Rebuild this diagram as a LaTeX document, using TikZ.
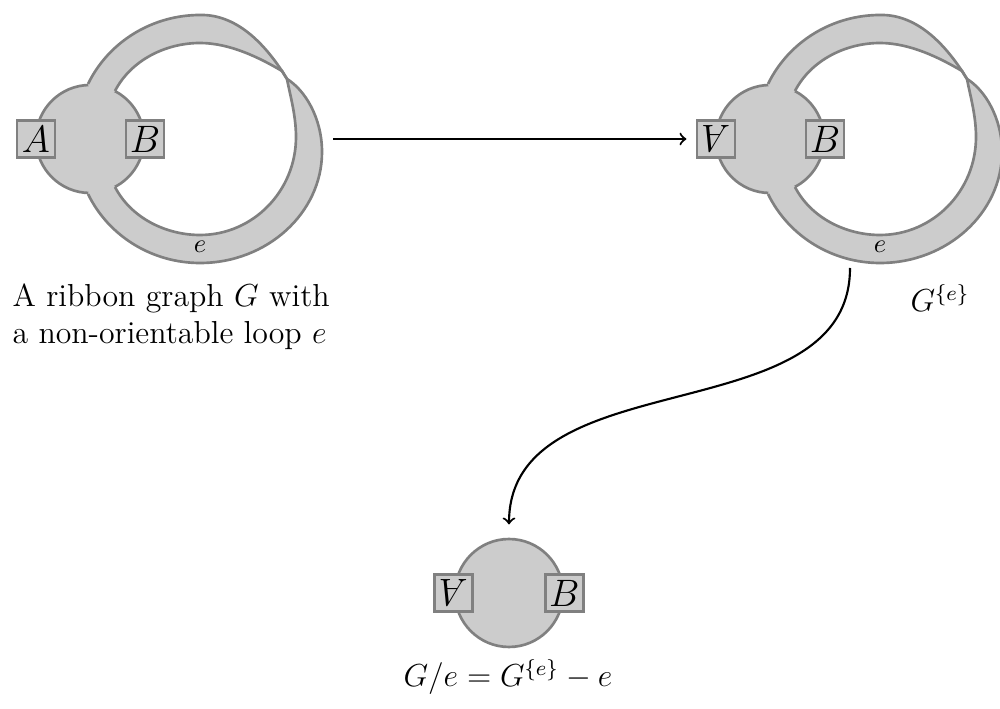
\documentclass[tikz,border=0pt]{standalone}

\tikzset{
  disc/.style={draw=gray, fill=gray!40, line width=1pt},
  ribbon/.style={fill=gray!40},
  ribbonedge/.style={draw=gray, line width=1pt},
  markbox/.style={draw=gray, fill=gray!40, line width=1pt, inner sep=0pt,
    minimum width=14.3pt, minimum height=14pt, font=\Large},
  caption/.style={inner sep=0pt, font=\large}
}

% half-twisted loop on a vertex centred at (90,139)
\newcommand*{\OuterTop}{(88,84) .. controls (109,41) and (153,15) .. (200,15)
    .. controls (240,14) and (268,50) .. (282,71)}
\newcommand*{\InnerTop}{(115,91) .. controls (131,60) and (166,43) .. (200,43)
    .. controls (230,43) and (260,58) .. (282,71)}
\newcommand*{\TwistedLoop}{%
  \fill[ribbon] \OuterTop -- (287,79)
    .. controls (290,95) and (296,115) .. (296,137)
    .. controls (296,191) and (253,235) .. (200,235)
    .. controls (166,235) and (131,218) .. (115,187)
    -- (95,160) -- (88,194)
    .. controls (109,237) and (153,263) .. (200,263)
    .. controls (267,263) and (322,213) .. (322,152)
    .. controls (322,118) and (305,90) .. (287,79) -- (282,71)
    .. controls (260,58) and (230,43) .. (200,43)
    .. controls (166,43) and (131,60) .. (115,91)
    -- (95,115) -- cycle;
  \draw[ribbonedge] \OuterTop -- (287,79)
    .. controls (290,95) and (296,115) .. (296,137)
    .. controls (296,191) and (253,235) .. (200,235)
    .. controls (166,235) and (131,218) .. (115,187);
  \draw[ribbonedge] \InnerTop -- (287,79)
    .. controls (305,90) and (322,118) .. (322,152)
    .. controls (322,213) and (267,263) .. (200,263)
    .. controls (153,263) and (109,237) .. (88,194);
}

\newcommand*{\FlipA}{\rotatebox{180}{$A$}}

\begin{document}
\begin{tikzpicture}[x=0.377pt, y=-0.377pt]
  \useasboundingbox (0,0) rectangle (1000,709);

  % G
  \draw[disc] (90,139) circle (54);
  \TwistedLoop
  \node at (200,247) {$e$};
  \node[markbox] (gA) at (36,139) {$A$};
  \node[markbox] (gB) at (145,139) {$B$};
  \coordinate (gright) at (333,139);
  \node[caption, anchor=west, align=left] (capG) at (12,317)
    {A ribbon graph $G$ with\\a non-orientable loop $e$};

  % partial Petrial
  \begin{scope}[shift={(680,0)}]
    \draw[disc] (90,139) circle (54);
    \TwistedLoop
    \node at (200,247) {$e$};
    \node[markbox] (pA) at (36,139) {\FlipA};
    \node[markbox] (pB) at (145,139) {$B$};
    \coordinate (pbottom) at (170,268);
    \node[caption, anchor=base] (capP) at (260,312) {$G^{\{e\}}$};
  \end{scope}

  % contraction
  \node[disc, circle, minimum size=40.7pt, inner sep=0pt] (hv) at (509,593) {};
  \node[markbox] (hA) at (hv.west) {\FlipA};
  \node[markbox] (hB) at (hv.east) {$B$};
  \node[caption, anchor=base] (capH) at (508,687) {$G/e=G^{\{e\}}-e$};

  \draw[thick, ->, shorten >=3.5pt] (gright) -- (pA);
  \draw[thick, ->, shorten >=5pt] (pbottom) .. controls (850,435) and (509,358) .. (hv.north);
\end{tikzpicture}
\end{document}
